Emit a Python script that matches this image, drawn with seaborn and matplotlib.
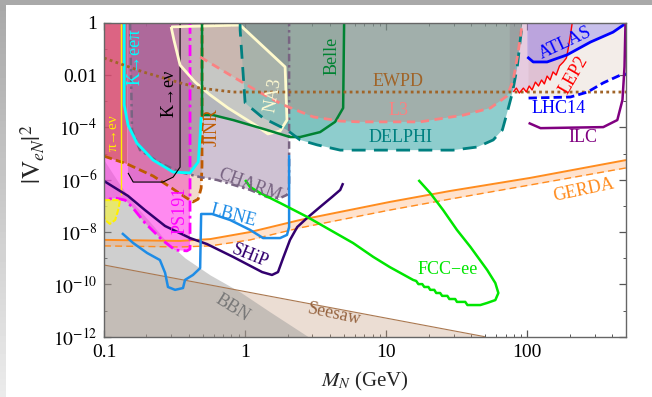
import numpy as np
import matplotlib
matplotlib.use("Agg")
import matplotlib.pyplot as plt
import seaborn as sns
from matplotlib.ticker import FixedLocator, FixedFormatter, LogLocator, NullFormatter
from matplotlib.patches import Rectangle

# ---------------- data: masses in GeV, mixing given as log10 |V_eN|^2 ----------------
seesaw_m = [0.1, 50.0]
seesaw_lu = [-9.26, -12.0]

bbn_m = [0.1, 0.13, 0.166, 0.212, 0.271, 0.375, 0.565, 0.922, 1.50, 2.80]
bbn_lu = [-5.25, -6.20, -6.97, -7.62, -8.30, -8.99, -9.64, -10.29, -11.05, -12.0]

gerda_m = [0.1, 0.346, 0.565, 1.085, 2.45, 10.6, 28.4, 105, 500]
gerda_lu = [-8.30, -8.34, -8.27, -8.00, -7.54, -6.85, -6.43, -5.93, -5.25]
gerda_dash_lu = [-8.53, -8.57, -8.53, -8.30, -7.84, -7.16, -6.74, -6.20, -5.55]

ps191_m = [0.1, 0.407, 0.407, 0.387, 0.319, 0.258, 0.195, 0.158, 0.141, 0.120, 0.1]
ps191_lu = [0, 0, -8.65, -8.72, -8.69, -8.30, -7.65, -7.04, -6.78, -6.70, -6.78]

jinr_m = [0.1, 0.146, 0.223, 0.294, 0.375, 0.427, 0.465, 0.488, 0.495, 0.495]
jinr_lu = [-5.10, -5.40, -5.86, -6.28, -6.66, -6.85, -6.74, -6.32, -5.44, 0]

pion_fill_m = [0.1, 0.146, 0.146, 0.1]
pion_fill_lu = [0, 0, -5.40, -5.10]

charm_m = [0.153, 0.158, 0.180, 0.249, 0.346, 0.480, 0.633, 1.085, 1.43, 1.77, 1.98, 2.05, 2.05]
charm_lu = [0, -4.10, -4.87, -5.36, -5.71, -5.90, -6.01, -6.39, -6.66, -6.70, -6.58, -6.28, 0]

na3_m = [0.299, 0.922, 1.92, 1.98, 1.77, 1.45, 1.18, 0.757, 0.565, 0.442, 0.346, 0.313, 0.299]
na3_lu = [-0.16, -0.09, -1.69, -3.72, -4.14, -4.25, -3.91, -3.26, -2.76, -2.27, -1.62, -0.66, -0.16]

belle_m = [0.495, 0.495, 0.592, 0.822, 1.43, 1.86, 2.08, 2.45, 3.40, 4.34, 4.95, 5.03]
belle_lu = [0, -3.53, -3.53, -3.72, -4.10, -4.29, -4.37, -4.37, -4.18, -3.79, -3.26, 0]

delphi_m = [0.922, 0.922, 1.0, 1.34, 1.98, 2.45, 3.24, 4.72, 29.8, 44.3, 57.3, 66.5, 71.8, 78.2, 84.8, 89.1, 92.1]
delphi_lu = [0, -0.28, -3.07, -3.64, -4.10, -4.48, -4.67, -4.87, -4.87, -4.75, -4.48, -4.10, -3.45, -2.69, -1.69, -0.66, 0]

l3_m = [0.48, 0.783, 1.18, 1.86, 3.04, 4.72, 6.5, 17.4, 35.3, 54.7, 71.8, 79.5, 86.1, 92.1]
l3_lu = [-1.31, -2.0, -2.57, -3.14, -3.60, -3.76, -3.79, -3.79, -3.53, -3.26, -2.80, -2.19, -1.12, 0]

ewpd_m = [0.1, 0.189, 0.346, 0.48, 0.822, 500]
ewpd_lu = [-1.35, -1.88, -2.30, -2.50, -2.65, -2.65]

lep2_m = [79.5, 83.6, 87.7, 93.7, 98.4, 103, 108, 114, 120, 126, 132, 138, 145, 152, 160, 169, 180, 189, 194, 202, 208]
lep2_lu = [-2.65, -2.50, -2.69, -2.50, -2.65, -2.42, -2.57, -2.27, -2.42, -2.19, -2.34, -2.04, -2.19, -1.88, -2.0,
           -1.65, -1.50, -1.35, -1.04, -0.47, 0]

atlas_m = [100, 110, 138, 191, 280, 405, 500]
atlas_lu = [-1.31, -1.50, -1.50, -1.23, -0.74, -0.36, -0.02]

lhc14_m = [102, 202, 267, 345, 457, 500]
lhc14_lu = [-2.88, -2.84, -2.65, -2.30, -2.0, -1.96]

ilc_m = [102, 124, 345, 434, 472, 488, 496]
ilc_lu = [-3.83, -4.03, -3.99, -3.72, -2.95, -1.69, 0]

ship_m = [0.1, 0.148, 0.195, 0.271, 0.407, 0.537, 0.822, 1.32, 1.55, 1.71, 1.86, 2.08, 2.34, 2.75, 3.40, 4.13, 4.72, 4.95]
ship_lu = [-6.05, -6.62, -7.16, -7.77, -8.23, -8.46, -8.95, -9.53, -9.64, -9.53, -8.99, -8.30, -7.81, -7.46, -7.04,
           -6.66, -6.39, -6.13]

lbne_m = [0.134, 0.161, 0.202, 0.249, 0.271, 0.284, 0.319, 0.363, 0.375, 0.427, 0.48, 0.488, 0.583, 0.783, 0.922,
          1.085, 1.34, 1.77, 1.98, 2.05, 2.05]
lbne_lu = [-8.04, -8.42, -8.80, -9.07, -9.56, -10.10, -10.21, -10.14, -9.83, -9.64, -9.38, -7.31, -7.31, -7.54, -7.73,
           -7.92, -8.23, -8.23, -8.11, -7.81, -5.06]

fcc_m = [1.0, 1.085, 1.28, 1.77, 2.75, 4.0, 5.82, 8.09, 10.6, 15.5, 16.3, 16.9, 18.0, 18.6, 19.9, 20.5, 21.9, 22.6,
         24.1, 24.9, 27.1, 28.0, 30.8, 31.7, 36.3, 37.6, 46.4, 51.9, 59.3, 62.3, 59.3, 51.9, 39.5, 31.7, 25.3, 20.5, 16.9]
fcc_lu = [-6.01, -6.28, -6.51, -6.89, -7.42, -7.92, -8.42, -8.95, -9.34, -9.83, -9.87, -9.99, -9.99, -10.10, -10.10,
          -10.21, -10.21, -10.33, -10.33, -10.44, -10.44, -10.56, -10.56, -10.67, -10.67, -10.79, -10.79, -10.71,
          -10.60, -10.33, -9.95, -9.45, -8.57, -7.92, -7.16, -6.51, -6.01]

keepi_m = [0.139, 0.139, 0.148, 0.171, 0.223, 0.309, 0.407, 0.465, 0.480, 0.488, 0.488]
keepi_lu = [0, -3.14, -3.91, -4.60, -5.25, -5.71, -5.74, -5.32, -4.29, -3.60, 0]

kenu_m = [0.148, 0.346, 0.346, 0.309, 0.262, 0.161, 0.148]
kenu_lu = [0, 0, -5.52, -5.90, -6.09, -6.09, -5.74]

pienu_m = [0.132, 0.132]
pienu_lu = [0, -6.58]
pienu_blob_m = [0.1, 0.130, 0.126, 0.120, 0.110, 0.102, 0.1]
pienu_blob_lu = [-6.78, -6.78, -7.16, -7.54, -7.69, -7.54, -7.35]

x_ticks = [0.1, 1, 10, 100]
x_ticklabels = ["0.1", "1", "10", "100"]
y_ticks = [1e-12, 1e-10, 1e-8, 1e-6, 1e-4, 1e-2, 1]
y_ticklabels = [r"$10^{-12}$", r"$10^{-10}$", r"$10^{-8}$", r"$10^{-6}$", r"$10^{-4}$", "0.01", "1"]

# ---------------- style ----------------
sns.set_theme(style="white")
plt.rcParams['font.family'] = ['Liberation Serif', 'DejaVu Serif']
plt.rcParams['mathtext.fontset'] = 'stix'

W, H = 652, 397
fig = plt.figure(figsize=(W / 100, H / 100), dpi=100)
fig.patch.set_facecolor('white')
fig.patches.append(Rectangle((0, 1 - 5 / H), 1, 5 / H, transform=fig.transFigure,
                             facecolor='#a9a9a9', edgecolor='none', zorder=0))
gax = fig.add_axes([0, 0, 6 / W, 1 - 5 / H])
gax.imshow(np.linspace(0.66, 0.92, 64)[:, None], cmap='gray', vmin=0, vmax=1, aspect='auto')
gax.axis('off')

ax = fig.add_axes([104 / W, 1 - 336.7 / H, (626 - 104) / W, (336.7 - 22.7) / H])
ax.set_facecolor('white')
ax.set_xscale('log')
ax.set_yscale('log')


def U(lu):
    return 10.0 ** np.asarray(lu, dtype=float)


def region(m, lu, color, alpha, z=1.5):
    ax.fill(np.asarray(m, float), U(lu), facecolor=color, alpha=alpha, lw=0, zorder=z)


def curve(m, lu, color, lw, ls='-', z=4):
    sns.lineplot(x=np.asarray(m, float), y=U(lu), sort=False, estimator=None,
                 color=color, lw=lw, ax=ax, zorder=z)
    ln = ax.lines[-1]
    ln.set_linestyle(ls)
    ln.set_solid_capstyle('butt')


# ---- fills ----
ax.fill_between(seesaw_m, U(seesaw_lu), 1e-12, facecolor='#c8a082', alpha=0.35, lw=0, zorder=1)
ax.fill_between(bbn_m, U(bbn_lu), 1e-12, facecolor='#969696', alpha=0.45, lw=0, zorder=1.1)
ax.fill_between(gerda_m, U(gerda_lu), U(gerda_dash_lu), facecolor='#ffa05a', alpha=0.3, lw=0, zorder=1.2)

region(ps191_m, ps191_lu, '#ff3ce6', 0.6)
region(jinr_m + [0.1], jinr_lu + [0], '#dc966e', 0.35)
region(pion_fill_m, pion_fill_lu, '#c83c46', 0.5)
region(charm_m, charm_lu, '#96789f', 0.45)
region(keepi_m, keepi_lu, '#8c6e8c', 0.3)
region(kenu_m, kenu_lu, '#a03c82', 0.3)
region(pienu_blob_m, pienu_blob_lu, '#f0f050', 0.75)

region(lhc14_m + [500, 102], lhc14_lu + [0, 0], '#f3ede9', 1.0)
region([75] + lep2_m + [75], [-2.65] + lep2_lu + [0], '#c88cb9', 0.45)
region(atlas_m + [100], atlas_lu + [0], '#786ef0', 0.35)

region(belle_m, belle_lu, '#3c8250', 0.18)
region(delphi_m, delphi_lu, '#32a5a5', 0.55)
region([0.48] + l3_m, [0] + l3_lu, '#be8278', 0.4)
region(na3_m, na3_lu, '#fffae0', 0.25)

# ---- boundary lines ----
curve(seesaw_m, seesaw_lu, '#aa7850', 0.8)
curve(gerda_m, gerda_lu, '#ff8c1e', 1.4)
curve(gerda_m, gerda_dash_lu, '#ff8c1e', 1.0, ls=(0, (5, 3)))
curve(ps191_m[1:], ps191_lu[1:], '#ff00ff', 2.0, ls=(0, (4, 1.5, 1, 1.5)))
curve(jinr_m, jinr_lu, '#be5a00', 2.0, ls=(0, (3, 1.5)))
curve(charm_m, charm_lu, '#786482', 1.8, ls=(0, (3, 1.5, 1, 1.5)))
curve(keepi_m[:-1], keepi_lu[:-1], '#00ffff', 2.0)
curve(kenu_m[1:], kenu_lu[1:], '#000000', 0.8)
curve(pienu_m, pienu_lu, '#fff000', 1.0)
curve(pienu_blob_m, pienu_blob_lu, '#fff000', 1.5, ls=(0, (3, 1)))
curve(na3_m, na3_lu, '#fffacd', 2.0)
curve(belle_m, belle_lu, '#008232', 1.8)
curve(delphi_m, delphi_lu, '#008080', 2.0, ls=(0, (5, 3)))
curve(l3_m, l3_lu, '#fa8282', 2.0, ls=(0, (3, 2)))
curve(ewpd_m, ewpd_lu, '#a06428', 2.0, ls=(0, (1, 1.2)))
curve(lep2_m, lep2_lu, '#ff0000', 1.0)
curve(atlas_m, atlas_lu, '#0000ff', 2.0)
curve(lhc14_m, lhc14_lu, '#0000ff', 2.0, ls=(0, (3, 1.5)))
curve(ilc_m, ilc_lu, '#800080', 1.8)
curve(ship_m, ship_lu, '#32006e', 1.8)
curve(lbne_m, lbne_lu, '#1e8ce6', 1.8)
curve(fcc_m, fcc_lu, '#00e600', 1.8)

# ---- labels ----
def label(txt, m, lu, color, rot=0, size=13):
    ax.text(m, 10.0 ** lu, txt, color=color, rotation=rot, ha='center', va='center',
            fontsize=size, rotation_mode='anchor', zorder=10)


label("K\u2192ee\u03c0", 0.166, -1.31, '#00ffff', 90)
label("K\u2192e\u03bd", 0.289, -2.69, '#000000', 90)
label("\u03c0\u2192e\u03bd", 0.116, -4.21, '#fff000', 90, 11)
label("JINR", 0.583, -3.99, '#be5a00', 90)
label("NA3", 1.58, -2.76, '#fffad2', 80)
label("Belle", 4.13, -1.27, '#008232', 90)
label("EWPD", 12.2, -2.23, '#a06428')
label("L3", 12.2, -3.34, '#fa8282')
label("DELPHI", 12.6, -4.37, '#008080')
label("ATLAS", 185, -0.78, '#0000ff', 25)
label("LEP2", 212, -2.0, '#ff0000', 60)
label("LHC14", 166, -3.26, '#0000ff')
label("ILC", 249, -4.37, '#800080')
label("GERDA", 249, -6.39, '#ff8c1e', 12)
label("CHARM", 1.085, -6.20, '#786482', -20)
label("PS191", 0.346, -7.16, '#ff00ff', 90)
label("LBNE", 0.822, -7.39, '#1e8ce6', -15)
label("SHiP", 1.085, -8.92, '#32006e', -22)
label("BBN", 0.81, -10.9, '#787878', -32)
label("Seesaw", 4.27, -11.14, '#966440', -12)
label("FCC\u2212ee", 27.1, -9.45, '#00e600')

# ---- axes ----
ax.set_xlim(0.1, 500)
ax.set_ylim(1e-12, 1)
ax.xaxis.set_major_locator(FixedLocator(x_ticks))
ax.xaxis.set_major_formatter(FixedFormatter(x_ticklabels))
ax.xaxis.set_minor_locator(LogLocator(base=10, subs=np.arange(2, 10), numticks=50))
ax.xaxis.set_minor_formatter(NullFormatter())
ax.yaxis.set_major_locator(FixedLocator(y_ticks))
ax.yaxis.set_major_formatter(FixedFormatter(y_ticklabels))
ax.yaxis.set_minor_locator(LogLocator(base=10, subs=(1.0,), numticks=50))
ax.yaxis.set_minor_formatter(NullFormatter())
ax.tick_params(which='both', direction='in', top=True, right=True, bottom=True, left=True,
               color='#555555', labelsize=14, labelcolor='black')
ax.tick_params(which='major', length=5, width=0.9, pad=5)
ax.tick_params(which='minor', length=2.5, width=0.7)
for s in ax.spines.values():
    s.set_color('#666666')
    s.set_linewidth(1.0)
    s.set_zorder(12)

ax.set_xlabel(r"$M_N$ (GeV)", fontsize=15)
ax.set_ylabel(r"$|\mathrm{V}_{eN}|^2$", fontsize=18)
ax.xaxis.set_label_coords(0.5, -0.105)
ax.yaxis.set_label_coords(-0.11, 0.58)

fig.savefig("out.png", dpi=100)
